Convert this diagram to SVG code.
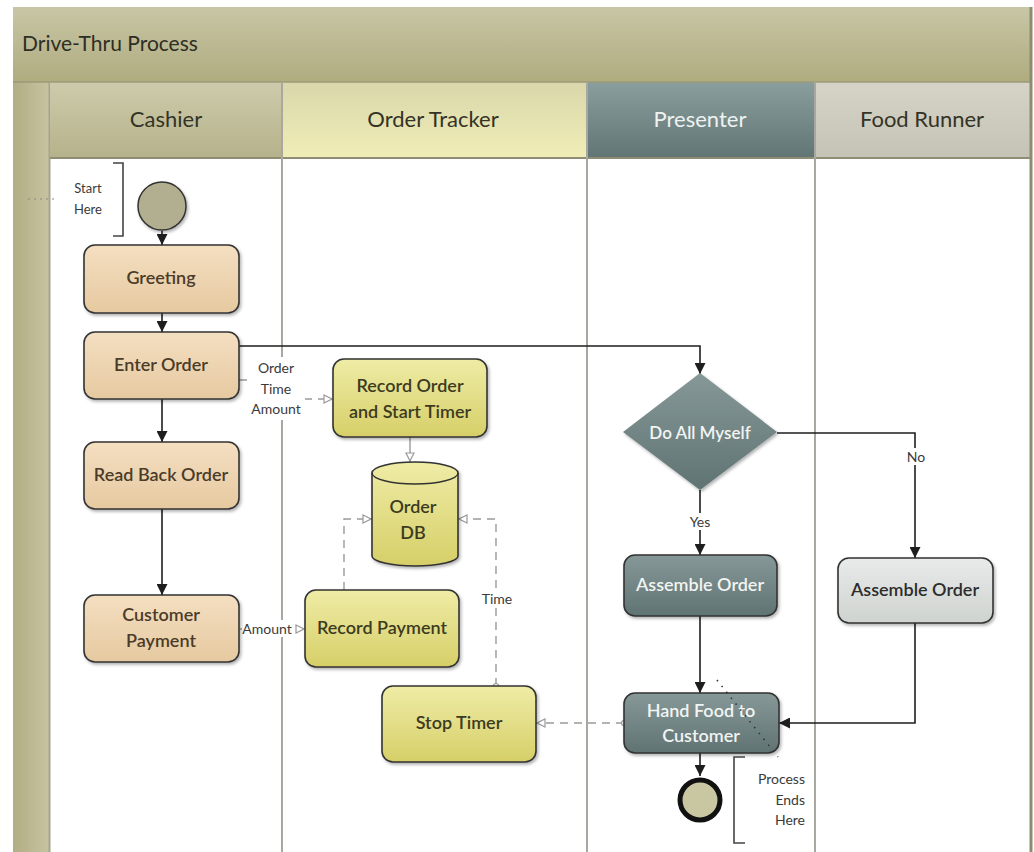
<svg xmlns="http://www.w3.org/2000/svg" width="1034" height="852" viewBox="0 0 1034 852">
  <defs>
    <linearGradient id="gTitle" x1="0" y1="0" x2="0" y2="1">
      <stop offset="0" stop-color="#c8c6a5"/>
      <stop offset="1" stop-color="#afac80"/>
    </linearGradient>
    <linearGradient id="gSide" x1="0" y1="0" x2="1" y2="0">
      <stop offset="0" stop-color="#b1ae84"/>
      <stop offset="1" stop-color="#c6c3a1"/>
    </linearGradient>
    <linearGradient id="gHdrCashier" x1="0" y1="0" x2="0" y2="1">
      <stop offset="0" stop-color="#cdcbab"/>
      <stop offset="1" stop-color="#b5b28b"/>
    </linearGradient>
    <linearGradient id="gHdrTracker" x1="0" y1="0" x2="0" y2="1">
      <stop offset="0" stop-color="#d9d7ab"/>
      <stop offset="1" stop-color="#f0edb6"/>
    </linearGradient>
    <linearGradient id="gHdrPresenter" x1="0" y1="0" x2="0" y2="1">
      <stop offset="0" stop-color="#8b9e9e"/>
      <stop offset="1" stop-color="#627575"/>
    </linearGradient>
    <linearGradient id="gHdrRunner" x1="0" y1="0" x2="0" y2="1">
      <stop offset="0" stop-color="#d6d4c6"/>
      <stop offset="1" stop-color="#c5c3b5"/>
    </linearGradient>
    <linearGradient id="gPeach" x1="0" y1="0" x2="0" y2="1">
      <stop offset="0" stop-color="#f4dfc1"/>
      <stop offset="1" stop-color="#e6c9a0"/>
    </linearGradient>
    <linearGradient id="gYellow" x1="0" y1="0" x2="0" y2="1">
      <stop offset="0" stop-color="#efeca6"/>
      <stop offset="1" stop-color="#d6cf68"/>
    </linearGradient>
    <linearGradient id="gSlate" x1="0" y1="0" x2="0" y2="1">
      <stop offset="0" stop-color="#869898"/>
      <stop offset="1" stop-color="#607373"/>
    </linearGradient>
    <linearGradient id="gGrey" x1="0" y1="0" x2="0" y2="1">
      <stop offset="0" stop-color="#e8ebe9"/>
      <stop offset="1" stop-color="#cfd3d0"/>
    </linearGradient>
    <filter id="shadow" x="-10%" y="-10%" width="125%" height="130%">
      <feDropShadow dx="1.5" dy="2" stdDeviation="1.5" flood-color="#000" flood-opacity="0.3"/>
    </filter>
    <marker id="arrowSolid" viewBox="0 0 10 10" refX="10" refY="5" markerWidth="11" markerHeight="11" markerUnits="userSpaceOnUse" orient="auto">
      <path d="M0,0 L10,5 L0,10 z" fill="#1e1e1e"/>
    </marker>
    <marker id="arrowOpen" viewBox="0 0 10 10" refX="10" refY="5" markerWidth="10" markerHeight="10" markerUnits="userSpaceOnUse" orient="auto">
      <path d="M1,1 L9,5 L1,9 z" fill="#fff" stroke="#9a9a9a" stroke-width="1.2"/>
    </marker>
  </defs>
  <style>
    text { font-family: Lato, "Liberation Sans", sans-serif; }
    .title { font-size: 21px; fill: #2e2e24; }
    .hdr { font-size: 22px; text-anchor: middle; fill: #333326; }
    .node { stroke: #333; stroke-width: 1.6; filter: url(#shadow); }
    .lbl { font-size: 18px; font-weight: 600; text-anchor: middle; }
    .brown { fill: #4b3b29; }
    .olive { fill: #3d3b1f; }
    .white { fill: #f2f4f2; }
    .dark { fill: #2c2c2c; }
    .small { font-size: 14px; fill: #3a3a3a; text-anchor: middle; }
    .flow { fill: none; stroke: #1e1e1e; stroke-width: 1.6; }
    .data { fill: none; stroke: #9a9a9a; stroke-width: 1.4; stroke-dasharray: 8 6; }
    .lane { stroke: #a9a8a0; stroke-width: 2; }
    .bracket { fill: none; stroke: #444; stroke-width: 1.6; }
  </style>

  <!-- frame, title band and lane headers -->
  <g id="pool">
    <rect x="0" y="0" width="1034" height="852" fill="#fff"/>
    <rect x="13" y="7" width="1018" height="75" fill="url(#gTitle)"/>
    <text class="title" x="22" y="51">Drive-Thru Process</text>
    <rect x="13" y="82" width="36" height="770" fill="url(#gSide)"/>
    <line x1="49.5" y1="82" x2="49.5" y2="852" stroke="#a6a48e" stroke-width="2"/>
    <rect x="50" y="82" width="232" height="76" fill="url(#gHdrCashier)"/>
    <rect x="282" y="82" width="305" height="76" fill="url(#gHdrTracker)"/>
    <rect x="587" y="82" width="228" height="76" fill="url(#gHdrPresenter)"/>
    <rect x="815" y="82" width="215" height="76" fill="url(#gHdrRunner)"/>
    <line x1="13" y1="82" x2="1031" y2="82" stroke="#9d9b78" stroke-width="1.5"/>
    <line x1="50" y1="158" x2="1031" y2="158" stroke="#8f8d74" stroke-width="2"/>
    <text class="hdr" x="166" y="127">Cashier</text>
    <text class="hdr" x="433" y="127">Order Tracker</text>
    <text class="hdr" x="700" y="127" fill="#eef2f1" style="fill:#eef2f1">Presenter</text>
    <text class="hdr" x="922" y="127">Food Runner</text>
    <line class="lane" x1="282" y1="82" x2="282" y2="852"/>
    <line class="lane" x1="587" y1="82" x2="587" y2="852"/>
    <line class="lane" x1="815" y1="82" x2="815" y2="852"/>
    <line x1="1031" y1="7" x2="1031" y2="852" stroke="#8e8c6f" stroke-width="3"/>
  </g>

  <!-- connectors -->
  <g id="connectors">
    <!-- control flow -->
    <line class="flow" x1="162" y1="231" x2="162" y2="245" marker-end="url(#arrowSolid)"/>
    <line class="flow" x1="162" y1="313" x2="162" y2="332" marker-end="url(#arrowSolid)"/>
    <line class="flow" x1="162" y1="399" x2="162" y2="442" marker-end="url(#arrowSolid)"/>
    <line class="flow" x1="162" y1="509" x2="162" y2="595" marker-end="url(#arrowSolid)"/>
    <path class="flow" d="M239,346 H700 V374" marker-end="url(#arrowSolid)"/>
    <path class="flow" d="M700,490 V555" marker-end="url(#arrowSolid)"/>
    <path class="flow" d="M777,433 H915 V558" marker-end="url(#arrowSolid)"/>
    <path class="flow" d="M700,616 V693" marker-end="url(#arrowSolid)"/>
    <path class="flow" d="M915,623 V723 H779" marker-end="url(#arrowSolid)"/>
    <path class="flow" d="M700,753 V776" marker-end="url(#arrowSolid)"/>

    <!-- data flow -->
    <path class="data" d="M239,380 H276 V399 H333" marker-end="url(#arrowOpen)"/>
    <circle cx="219" cy="381" r="1.8" fill="#333"/>
    <path d="M410,437 V462" fill="none" stroke="#9a9a9a" stroke-width="1.4" marker-end="url(#arrowOpen)"/>
    <path class="data" d="M344,590 V519 H372" marker-end="url(#arrowOpen)"/>
    <path class="data" d="M496,686 V519 H458" marker-end="url(#arrowOpen)"/>
    <circle cx="496" cy="686" r="2.5" fill="#fff" stroke="#9a9a9a" stroke-width="1.2"/>
    <path class="data" d="M240,629 H305" marker-end="url(#arrowOpen)"/>
    <path class="data" d="M624,723 H536" marker-end="url(#arrowOpen)"/>
    <circle cx="624" cy="723" r="2.5" fill="#fff" stroke="#9a9a9a" stroke-width="1.2"/>

    <!-- labels on connectors -->
    <rect x="248" y="357" width="57" height="63" fill="#fff"/>
    <text class="small" x="276" y="373">Order</text>
    <text class="small" x="276" y="394">Time</text>
    <text class="small" x="276" y="414">Amount</text>
    <rect x="242" y="620" width="52" height="17" fill="#fff"/>
    <text class="small" x="267" y="634">Amount</text>
    <rect x="480" y="590" width="34" height="17" fill="#fff"/>
    <text class="small" x="497" y="604">Time</text>
    <rect x="688" y="513" width="24" height="17" fill="#fff"/>
    <text class="small" x="700" y="527">Yes</text>
    <rect x="906" y="448" width="20" height="17" fill="#fff"/>
    <text class="small" x="916" y="462">No</text>
  </g>

  <!-- start event and its note -->
  <g id="start">
    <line x1="28" y1="199" x2="56" y2="199" stroke="#888" stroke-width="1.2" stroke-dasharray="2 4"/>
    <path class="bracket" d="M113,163 H123 V236 H113"/>
    <text class="small" x="88" y="193" style="font-size:13px">Start</text>
    <text class="small" x="88" y="214" style="font-size:13px">Here</text>
    <circle cx="162" cy="206" r="24" fill="#b1af90" stroke="#333" stroke-width="1.5" filter="url(#shadow)"/>
  </g>

  <g id="greeting">
    <rect class="node" x="84" y="245" width="155" height="68" rx="11" fill="url(#gPeach)"/>
    <text class="lbl brown" x="161" y="284">Greeting</text>
  </g>

  <g id="enter-order">
    <rect class="node" x="84" y="332" width="155" height="67" rx="11" fill="url(#gPeach)"/>
    <text class="lbl brown" x="161" y="371">Enter Order</text>
  </g>

  <g id="read-back-order">
    <rect class="node" x="84" y="442" width="155" height="67" rx="11" fill="url(#gPeach)"/>
    <text class="lbl brown" x="161" y="481">Read Back Order</text>
  </g>

  <g id="customer-payment">
    <rect class="node" x="84" y="595" width="155" height="67" rx="11" fill="url(#gPeach)"/>
    <text class="lbl brown" x="161" y="621">Customer</text>
    <text class="lbl brown" x="161" y="647">Payment</text>
  </g>

  <g id="record-order">
    <rect class="node" x="333" y="359" width="154" height="78" rx="11" fill="url(#gYellow)"/>
    <text class="lbl olive" x="410" y="392">Record Order</text>
    <text class="lbl olive" x="410" y="418">and Start Timer</text>
  </g>

  <g id="order-db">
    <path class="node" d="M372,473 A43,11 0 0 1 458,473 V556 A43,10 0 0 1 372,556 Z" fill="url(#gYellow)"/>
    <path d="M372,473 A43,11 0 0 0 458,473" fill="none" stroke="#333" stroke-width="1.4"/>
    <text class="lbl olive" x="413" y="513">Order</text>
    <text class="lbl olive" x="413" y="539">DB</text>
  </g>

  <g id="record-payment">
    <rect class="node" x="305" y="590" width="154" height="77" rx="11" fill="url(#gYellow)"/>
    <text class="lbl olive" x="382" y="634">Record Payment</text>
  </g>

  <g id="stop-timer">
    <rect class="node" x="382" y="686" width="154" height="76" rx="11" fill="url(#gYellow)"/>
    <text class="lbl olive" x="459" y="729">Stop Timer</text>
  </g>

  <g id="do-all-myself">
    <path class="node" d="M700,373 L777,432 L700,490 L623,432 Z" fill="url(#gSlate)" style="stroke:none"/>
    <text class="lbl white" x="700" y="439" style="font-size:17px">Do All Myself</text>
  </g>

  <g id="assemble-order-presenter">
    <rect class="node" x="624" y="555" width="153" height="61" rx="11" fill="url(#gSlate)"/>
    <text class="lbl white" x="700" y="591">Assemble Order</text>
  </g>

  <g id="assemble-order-runner">
    <rect class="node" x="838" y="558" width="155" height="65" rx="11" fill="url(#gGrey)"/>
    <text class="lbl dark" x="915" y="596">Assemble Order</text>
  </g>

  <g id="hand-food">
    <rect class="node" x="624" y="693" width="155" height="60" rx="11" fill="url(#gSlate)"/>
    <text class="lbl white" x="701" y="717">Hand Food to</text>
    <text class="lbl white" x="701" y="742">Customer</text>
  </g>

  <!-- end event and its note -->
  <g id="end">
    <line x1="717" y1="680" x2="778" y2="757" stroke="#333" stroke-width="1.6" stroke-dasharray="1.5 6"/>
    <path class="bracket" d="M745,757 H734 V843 H745"/>
    <text class="small" x="805" y="784" style="text-anchor:end">Process</text>
    <text class="small" x="805" y="805" style="text-anchor:end">Ends</text>
    <text class="small" x="805" y="825" style="text-anchor:end">Here</text>
    <circle cx="700" cy="800" r="20" fill="#c9c6a2" stroke="#111" stroke-width="5"/>
  </g>
</svg>
